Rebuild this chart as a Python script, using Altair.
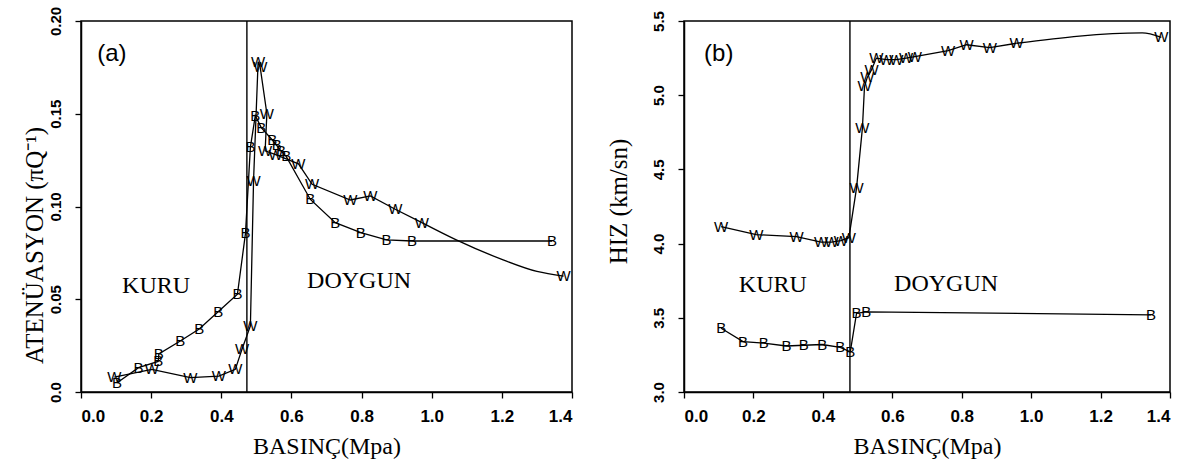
import altair as alt
import pandas as pd

# ---------------- Panel (a): attenuation ----------------
a_w_x = [0.095, 0.202, 0.312, 0.393, 0.44, 0.459, 0.483, 0.492, 0.505, 0.511, 0.53, 0.525,
         0.555, 0.62, 0.659, 0.768, 0.825, 0.896, 0.972, 1.07, 1.2, 1.3, 1.376]
a_w_y = [0.008, 0.0122, 0.0077, 0.0086, 0.0122, 0.023, 0.0356, 0.114, 0.178, 0.175, 0.150, 0.130,
         0.128, 0.123, 0.112, 0.1035, 0.1057, 0.0985, 0.0913, 0.082, 0.0715, 0.065, 0.0625]
a_w_m = [1] * 19 + [0, 0, 0, 1]
a_w_tail = 18  # the curve from this point on is drawn smooth

a_b_x = [0.103, 0.164, 0.22, 0.222, 0.283, 0.337, 0.391, 0.446, 0.469, 0.483, 0.497, 0.514,
         0.545, 0.558, 0.57, 0.585, 0.654, 0.725, 0.798, 0.871, 0.944, 1.343]
a_b_y = [0.005, 0.0131, 0.0165, 0.0205, 0.0275, 0.034, 0.0433, 0.0527, 0.0855, 0.132, 0.149, 0.1425,
         0.136, 0.133, 0.130, 0.127, 0.1038, 0.0913, 0.0859, 0.082, 0.0814, 0.0814]
a_b_m = [1] * 22

# ---------------- Panel (b): velocity ----------------
b_w_x = [0.107, 0.208, 0.324, 0.395, 0.425, 0.452, 0.475, 0.497, 0.514, 0.52, 0.528, 0.54, 0.554,
         0.583, 0.612, 0.64, 0.665, 0.761, 0.814, 0.881, 0.958, 1.32, 1.375]
b_w_y = [4.115, 4.06, 4.047, 4.01, 4.01, 4.02, 4.04, 4.374, 4.78, 5.06, 5.12, 5.17, 5.25,
         5.24, 5.24, 5.25, 5.26, 5.30, 5.34, 5.32, 5.35, 5.42, 5.39]
b_w_m = [1] * 21 + [0, 1]
b_w_tail = 20

b_b_x = [0.107, 0.17, 0.23, 0.295, 0.345, 0.398, 0.45, 0.479, 0.497, 0.525, 1.345]
b_b_y = [3.43, 3.34, 3.33, 3.31, 3.315, 3.32, 3.30, 3.27, 3.53, 3.54, 3.52]
b_b_m = [1] * 11

x_ticks = [0.0, 0.2, 0.4, 0.6, 0.8, 1.0, 1.2, 1.4]
a_y_ticks = [0.0, 0.05, 0.10, 0.15, 0.20]
b_y_ticks = [3.0, 3.5, 4.0, 4.5, 5.0, 5.5]

SERIF = "Liberation Serif"
SANS = "Liberation Sans"


def series_df(wx, wy, wm, wtail, bx, by, bm):
    rows = []
    for i, (x, y, m) in enumerate(zip(wx, wy, wm)):
        seg = "lin" if i <= wtail else "none"
        rows.append({"x": x, "y": y, "m": m, "s": "W", "i": i, "seg": seg,
                     "tail": 1 if i >= wtail else 0})
    for i, (x, y, m) in enumerate(zip(bx, by, bm)):
        rows.append({"x": x, "y": y, "m": m, "s": "B", "i": i, "seg": "lin", "tail": 0})
    return pd.DataFrame(rows)


def panel(df, ydom, yticks, ylabel_expr, ytitle, title_x, title_y, vline, notes, w, h):
    xs = alt.Scale(domain=[0, 1.4], nice=False, zero=False)
    ys = alt.Scale(domain=ydom, nice=False, zero=False)
    xax = alt.Axis(values=x_ticks, format=".1f", title="BASINÇ(Mpa)", grid=False,
                   labelFont=SANS, labelFontSize=17, labelFontWeight="bold",
                   titleFont=SERIF, titleFontSize=24, titleFontWeight="normal",
                   tickSize=6, labelPadding=10, titlePadding=10)
    yax = alt.Axis(values=yticks, labelExpr=ylabel_expr, title=ytitle, grid=False,
                   labelFont=SANS, labelFontSize=15, labelFontWeight="bold",
                   labelAngle=270, labelAlign="center", labelBaseline="bottom",
                   tickSize=6, labelPadding=12,
                   titleFont=SERIF, titleFontSize=25, titleFontWeight="normal",
                   titleAngle=270, titleAlign="center", titleBaseline="middle",
                   titleX=title_x, titleY=title_y)
    line = alt.Chart(df).transform_filter("datum.seg == 'lin'").mark_line(
        color="black", strokeWidth=1.3).encode(
        x=alt.X("x:Q", scale=xs, axis=xax),
        y=alt.Y("y:Q", scale=ys, axis=yax),
        detail="s:N",
        order="i:Q",
    )
    tail = alt.Chart(df).transform_filter("datum.tail == 1").mark_line(
        color="black", strokeWidth=1.3, interpolate="monotone").encode(
        x=alt.X("x:Q", scale=xs), y=alt.Y("y:Q", scale=ys), order="i:Q")
    marks = alt.Chart(df).transform_filter("datum.m == 1").mark_text(
        font=SANS, fontSize=15, color="black"
    ).encode(x=alt.X("x:Q", scale=xs), y=alt.Y("y:Q", scale=ys), text="s:N")
    rule = alt.Chart(pd.DataFrame({"x": [vline]})).mark_rule(
        color="black", strokeWidth=1.4).encode(x=alt.X("x:Q", scale=xs))
    ndf = pd.DataFrame(notes)
    lab = alt.Chart(ndf).transform_filter("datum.k == 'serif'").mark_text(
        font=SERIF, fontSize=24, color="black"
    ).encode(x=alt.X("x:Q", scale=xs), y=alt.Y("y:Q", scale=ys), text="t:N")
    tag = alt.Chart(ndf).transform_filter("datum.k == 'sans'").mark_text(
        font=SANS, fontSize=24, color="black"
    ).encode(x=alt.X("x:Q", scale=xs), y=alt.Y("y:Q", scale=ys), text="t:N")
    return alt.layer(rule, line, tail, marks, lab, tag).properties(width=w, height=h)


dfa = series_df(a_w_x, a_w_y, a_w_m, a_w_tail, a_b_x, a_b_y, a_b_m)
dfb = series_df(b_w_x, b_w_y, b_w_m, b_w_tail, b_b_x, b_b_y, b_b_m)

notes_a = {"x": [0.088, 0.214, 0.793], "y": [0.182, 0.057, 0.060],
           "t": ["(a)", "KURU", "DOYGUN"], "k": ["sans", "serif", "serif"]}
notes_b = {"x": [0.10, 0.256, 0.755], "y": [5.28, 3.72, 3.73],
           "t": ["(b)", "KURU", "DOYGUN"], "k": ["sans", "serif", "serif"]}

pa = panel(dfa, [0, 0.2], a_y_ticks,
           "datum.value == 0 ? '0.0' : format(datum.value, '.2f')",
           "ATENÜASYON  (πQ⁻¹)", -47, 224, 0.473, notes_a, 491, 371)
pb = panel(dfb, [3.0, 5.5], b_y_ticks, "format(datum.value, '.1f')",
           "HIZ (km/sn)", -66, 180, 0.478, notes_b, 486, 371)

chart = alt.hconcat(pa, pb, spacing=31).properties(
    padding={"left": 21, "top": 5, "right": 5, "bottom": 5},
    background="white",
).configure_view(stroke="black", strokeWidth=1.5).configure_axis(
    domainColor="black", tickColor="black", domainWidth=1.5, tickWidth=1.3,
    labelColor="black", titleColor="black"
)

chart.save("out.html", embed_options={"renderer": "svg", "actions": False})
